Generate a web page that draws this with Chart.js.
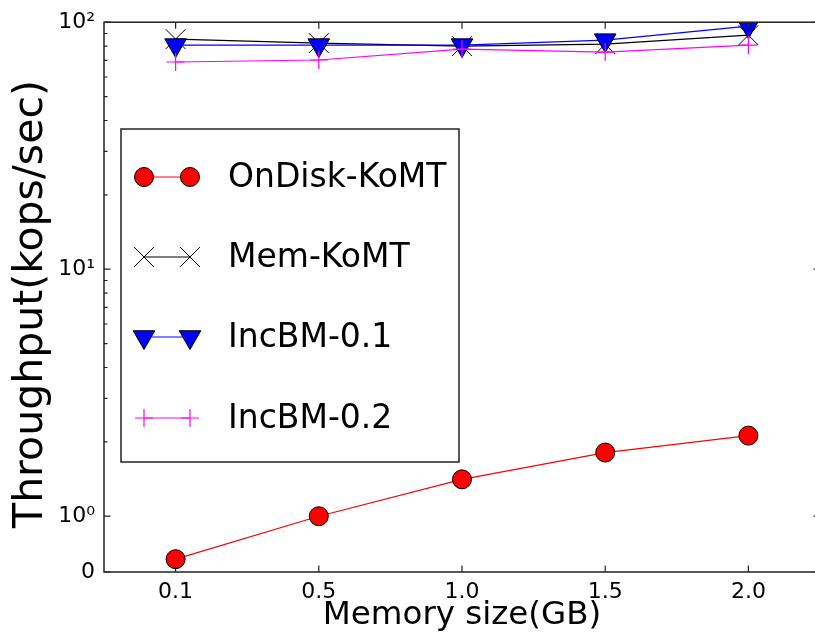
<!DOCTYPE html>
<html><head><meta charset="utf-8">
<script src="https://cdn.jsdelivr.net/npm/chart.js@4.4.1/dist/chart.umd.min.js"></script>
<style>
html,body{margin:0;padding:0;background:#fff;overflow:hidden;}
#wrap{width:830px;height:635px;position:relative;}
canvas{display:block;}
</style></head><body>
<div id="wrap"><canvas id="c" width="830" height="635"></canvas></div>
<script>
// ---- data ----
const categories = ['0.1', '0.5', '1.0', '1.5', '2.0'];
const onDiskKoMT = [0.67, 1.0, 1.41, 1.81, 2.12];
const memKoMT    = [85.4, 82.3, 80.0, 81.5, 88.6];
const incBM01    = [80.8, 80.8, 80.8, 84.6, 96.4];
const incBM02    = [69.0, 70.3, 77.8, 75.7, 80.8];
const seriesNames = ['OnDisk-KoMT', 'Mem-KoMT', 'IncBM-0.1', 'IncBM-0.2'];
const yTickValues = [0.5945, 1, 10, 100];
const yTickLabels = ['0', '10⁰', '10¹', '10²'];
const yMinorValues = [2, 3, 4, 5, 6, 7, 8, 9, 20, 30, 40, 50, 60, 70, 80, 90];
const xTitle = 'Memory size(GB)';
const yTitle = 'Throughput(kops/sec)';

const FONT = "'DejaVu Sans', 'Liberation Sans', sans-serif";

const datasets = [
  { label: seriesNames[0], data: onDiskKoMT, borderColor: '#ff0000', borderWidth: 1.2,
    pointStyle: 'circle', pointRadius: 9.5, pointBackgroundColor: '#ff0000',
    pointBorderColor: '#000000', pointBorderWidth: 1, order: 4 },
  { label: seriesNames[1], data: memKoMT, borderColor: '#000000', borderWidth: 1.2,
    pointStyle: 'crossRot', pointRadius: 14, pointBackgroundColor: '#000000',
    pointBorderColor: '#000000', pointBorderWidth: 1, order: 3 },
  { label: seriesNames[2], data: incBM01, borderColor: '#0000ff', borderWidth: 1.2,
    pointStyle: 'triangle', pointRotation: 180, pointRadius: 12.5, pointBackgroundColor: '#0000ff',
    pointBorderColor: '#000000', pointBorderWidth: 1, order: 2 },
  { label: seriesNames[3], data: incBM02, borderColor: '#ff00ff', borderWidth: 1.2,
    pointStyle: 'cross', pointRadius: 9, pointBackgroundColor: '#ff00ff',
    pointBorderColor: '#ff00ff', pointBorderWidth: 1.2, order: 1 }
];
datasets.forEach(d => { d.fill = false; d.tension = 0; d.clip = 0; d.pointHoverRadius = d.pointRadius; });

const framePlugin = {
  id: 'frame',
  afterDatasetsDraw(chart) {
    const { ctx, chartArea: a, scales: { x, y } } = chart;
    ctx.save();
    ctx.strokeStyle = '#222';
    ctx.lineWidth = 1.5;
    ctx.strokeRect(a.left, a.top, a.right - a.left, a.bottom - a.top);
    ctx.lineWidth = 1.2;
    ctx.beginPath();
    categories.forEach((c, i) => {
      const px = x.getPixelForValue(i);
      ctx.moveTo(px, a.bottom); ctx.lineTo(px, a.bottom - 6.5);
      ctx.moveTo(px, a.top); ctx.lineTo(px, a.top + 6.5);
    });
    yTickValues.forEach(v => {
      const py = y.getPixelForValue(v);
      ctx.moveTo(a.left, py); ctx.lineTo(a.left + 6.5, py);
      ctx.moveTo(a.right, py); ctx.lineTo(a.right - 6.5, py);
    });
    yMinorValues.forEach(v => {
      const py = y.getPixelForValue(v);
      ctx.moveTo(a.left, py); ctx.lineTo(a.left + 3.5, py);
      ctx.moveTo(a.right, py); ctx.lineTo(a.right - 3.5, py);
    });
    ctx.stroke();
    // y axis title
    ctx.fillStyle = '#000';
    ctx.font = '41px ' + FONT;
    ctx.textAlign = 'center';
    ctx.textBaseline = 'middle';
    ctx.translate(31, 304);
    ctx.rotate(-Math.PI / 2);
    ctx.fillText(yTitle, 0, 0);
    ctx.restore();
  }
};

const legendPlugin = {
  id: 'mplLegend',
  afterDraw(chart) {
    const ctx = chart.ctx;
    const box = { x: 121, y: 129, w: 338, h: 333 };
    const rows = [177, 257, 337, 418];
    const mx1 = 144, mx2 = 190, tx = 228;
    ctx.save();
    ctx.fillStyle = '#ffffff';
    ctx.fillRect(box.x, box.y, box.w, box.h);
    ctx.strokeStyle = '#222';
    ctx.lineWidth = 1.5;
    ctx.strokeRect(box.x, box.y, box.w, box.h);
    chart.data.datasets.forEach((ds, i) => {
      const yy = rows[i];
      ctx.strokeStyle = ds.borderColor;
      ctx.lineWidth = ds.borderWidth;
      ctx.beginPath(); ctx.moveTo(mx1, yy); ctx.lineTo(mx2, yy); ctx.stroke();
      [mx1, mx2].forEach(mx => {
        ctx.fillStyle = ds.pointBackgroundColor;
        ctx.strokeStyle = ds.pointBorderColor;
        ctx.lineWidth = ds.pointBorderWidth;
        Chart.helpers.drawPoint(ctx, { pointStyle: ds.pointStyle, radius: ds.pointRadius,
          rotation: ds.pointRotation || 0, borderWidth: ds.pointBorderWidth }, mx, yy);
      });
      ctx.fillStyle = '#000';
      ctx.font = '33px ' + FONT;
      ctx.textBaseline = 'middle';
      ctx.textAlign = 'left';
      ctx.fillText(ds.label, tx, yy + 1);
    });
    ctx.restore();
  }
};

new Chart(document.getElementById('c').getContext('2d'), {
  type: 'line',
  data: { labels: categories, datasets },
  options: {
    responsive: false,
    animation: false,
    events: [],
    layout: { autoPadding: false, padding: { top: 20, right: 10, left: 0, bottom: 0 } },
    plugins: { legend: { display: false }, tooltip: { enabled: false } },
    scales: {
      x: {
        type: 'category', offset: true,
        grid: { display: false, drawTicks: false }, border: { display: false },
        ticks: { font: { family: FONT, size: 22 }, color: '#000', padding: 7, maxRotation: 0 },
        title: { display: true, text: xTitle, font: { family: FONT, size: 32.5 }, color: '#000',
                 padding: { top: 0, bottom: 0 } },
        afterFit(s) { s.height = 63; s.paddingLeft = 0; s.paddingRight = 0; }
      },
      y: {
        type: 'logarithmic', min: yTickValues[0], max: yTickValues[yTickValues.length - 1],
        grid: { display: false, drawTicks: false }, border: { display: false },
        afterBuildTicks(s) { s.ticks = yTickValues.map(v => ({ value: v })); },
        ticks: { autoSkip: false, font: { family: FONT, size: 22 }, color: '#000', padding: 9,
                 callback(v, i) { return yTickLabels[i]; } },
        title: { display: false, text: yTitle },
        afterFit(s) { s.width = 104; }
      }
    }
  },
  plugins: [framePlugin, legendPlugin]
});
</script>
</body></html>
